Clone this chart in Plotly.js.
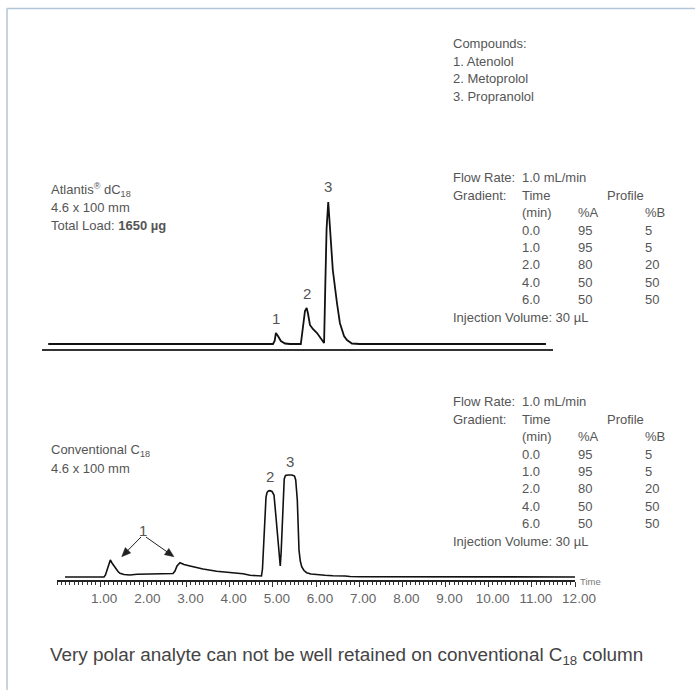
<!DOCTYPE html>
<html><head><meta charset="utf-8">
<script src="https://cdn.plot.ly/plotly-3.0.1.min.js"></script>
<style>html,body{margin:0;padding:0;background:#fff}</style>
</head><body><div id="chart" style="width:695px;height:690px"></div>
<script>
// ---------- data ----------
const compounds = ['Atenolol', 'Metoprolol', 'Propranolol'];

// Atlantis dC18 chromatogram (time in min, signal in arbitrary units)
const topTime   = [0, 5.41, 5.45, 5.48, 5.53, 5.60, 5.70, 5.82, 6.08, 6.13, 6.18, 6.22, 6.25, 6.30, 6.37, 6.47, 6.56, 6.61, 6.64, 6.67, 6.70, 6.74, 6.78, 6.85, 6.95, 7.02, 7.12, 7.19, 7.31, 7.50, 11.98];
const topSignal = [0, 0, 3, 11, 8, 3, 0.5, 0, 0, 15, 33, 36, 31, 19, 15, 11, 6, 3, 1, 60, 115, 142, 120, 74, 41, 21, 8, 4, 0.5, 0, 0];

// Conventional C18 chromatogram
const lowTime   = [0.185, 1.089, 1.123, 1.158, 1.193, 1.235, 1.274, 1.344, 1.413, 1.459, 1.552, 1.691, 1.853, 2.154, 2.618, 2.687, 2.733, 2.780, 2.849, 2.942, 3.081, 3.382, 3.699, 4.007, 4.146, 4.216, 4.309, 4.471, 4.656, 4.737, 4.760, 4.779, 4.795, 4.819, 4.842, 4.865, 4.895, 4.934, 4.981, 5.027, 5.050, 5.073, 5.103, 5.126, 5.149, 5.172, 5.193, 5.212, 5.228, 5.247, 5.264, 5.294, 5.352, 5.444, 5.502, 5.530, 5.548, 5.567, 5.588, 5.606, 5.636, 5.669, 5.722, 5.784, 5.884, 6.016, 6.208, 6.393, 6.555, 6.671, 6.787, 7.019, 12.0];
const lowSignal = [0, 0, 2, 7, 13, 17, 14, 9, 5.5, 3.7, 2.5, 2, 2.7, 3, 3, 3.5, 6, 11, 14.3, 12.5, 11, 8, 5.7, 4.7, 4.5, 4.3, 3.3, 1.7, 1.0, 1, 8, 27, 45, 67, 80, 84.5, 86, 86.3, 85.5, 82, 74, 60, 45, 30, 18, 11, 25, 48, 60, 85, 98, 101.5, 102, 102, 101, 97, 88, 77, 50, 27, 16, 10.3, 6.5, 4.3, 3, 2.3, 1.7, 1.3, 1.5, 1, 0.5, 0.3, 0];

// peak labels (apex time, apex signal)
const topPeakLabels = ['1', '2', '3'];
const topPeakTimes  = [5.48, 6.22, 6.74];
const topPeakHeights = [11, 36, 142];
const lowPeakLabels = ['2', '3'];
const lowPeakTimes  = [4.934, 5.40];
const lowPeakHeights = [86.3, 102];
// compound 1 in the conventional run: label position and the two arrow targets
const lowPeak1Label = {t: 1.99, v: 47};
const lowPeak1Tails = [[1.946, 40], [2.06, 40]];
const lowPeak1Heads = [[1.499, 20.3], [2.710, 20.3]];

const tickValues = [1, 2, 3, 4, 5, 6, 7, 8, 9, 10, 11, 12];
const tickLabels = ['1.00', '2.00', '3.00', '4.00', '5.00', '6.00', '7.00', '8.00', '9.00', '10.00', '11.00', '12.00'];

const flowRate = '1.0 mL/min';
const gradTime = ['0.0', '1.0', '2.0', '4.0', '6.0'];
const gradA = [95, 95, 80, 50, 50];
const gradB = [5, 5, 20, 50, 50];
const injVolume = '30 µL';

// ---------- layout helpers ----------
const W = 695, H = 690;
const px = x => x / W;
const py = y => 1 - y / H;
const FONT = 'Liberation Sans, Arial, sans-serif';
const TXT = '#555';

// lower plot geometry (pixels per data unit)
const LX0 = 57, LX1 = 575, LXR = [0, 12];
const LY0 = 579.5, LY1 = 459.5, LYR = [-2.5, 117.5];
const kx = (LX1 - LX0) / (LXR[1] - LXR[0]);
const ky = (LY0 - LY1) / (LYR[1] - LYR[0]);

const ann = [];
function text(x, y, t, size, color, extra) {
  ann.push(Object.assign({xref: 'paper', yref: 'paper', x: px(x), y: py(y), text: t, showarrow: false,
    xanchor: 'left', yanchor: 'middle', font: {family: FONT, size: size || 13, color: color || TXT}}, extra || {}));
}

// compounds list
text(451, 43.5, 'Compounds:');
compounds.forEach((c, i) => text(451, 43.5 + 17.7 * (i + 1), (i + 1) + '. ' + c));

// column labels
text(49, 190, 'Atlantis<sup>®</sup> dC<sub>18</sub>');
text(49, 207.5, '4.6 x 100 mm');
text(49, 225, 'Total Load: <b>1650 µg</b>');
text(49, 450.7, 'Conventional C<sub>18</sub>');
text(49, 468.2, '4.6 x 100 mm');

// method tables
function table(y0) {
  const dy = 17.45;
  text(451, y0, 'Flow Rate:');
  text(520, y0, flowRate);
  text(451, y0 + dy, 'Gradient:');
  text(520, y0 + dy, 'Time');
  text(605, y0 + dy, 'Profile');
  text(520, y0 + 2 * dy, '(min)');
  text(576, y0 + 2 * dy, '%A');
  text(643, y0 + 2 * dy, '%B');
  gradTime.forEach((t, i) => {
    const y = y0 + (3 + i) * dy;
    text(520, y, t);
    text(576, y, String(gradA[i]));
    text(643, y, String(gradB[i]));
  });
  text(451, y0 + 8 * dy, 'Injection Volume: ' + injVolume);
}
table(177.7);
table(401.7);

// peak labels
topPeakLabels.forEach((l, i) => ann.push({xref: 'x2', yref: 'y2', x: topPeakTimes[i], y: topPeakHeights[i], text: l,
  showarrow: false, yanchor: 'middle', yshift: 15, font: {family: FONT, size: 15, color: TXT}}));
lowPeakLabels.forEach((l, i) => ann.push({xref: 'x', yref: 'y', x: lowPeakTimes[i], y: lowPeakHeights[i], text: l,
  showarrow: false, yanchor: 'middle', yshift: 14, font: {family: FONT, size: 15, color: TXT}}));
ann.push({xref: 'x', yref: 'y', x: lowPeak1Label.t, y: lowPeak1Label.v, text: '1', showarrow: false, yanchor: 'middle',
  font: {family: FONT, size: 15, color: TXT}});

// arrows for compound 1 as shapes (line + filled head)
const shapes = [
  {type: 'line', xref: 'paper', yref: 'paper', x0: px(7), x1: 1, y0: py(8.5), y1: py(8.5), line: {color: '#b3c6d9', width: 1.5}},
  {type: 'line', xref: 'paper', yref: 'paper', x0: px(7), x1: px(7), y0: py(8.5), y1: 0, line: {color: '#b3c6d9', width: 1.5}}
];
lowPeak1Heads.forEach((h, i) => {
  const t = lowPeak1Tails[i];
  // direction in pixel space (x right, y up)
  const dxp = (h[0] - t[0]) * kx, dyp = (h[1] - t[1]) * ky;
  const len = Math.hypot(dxp, dyp);
  const ux = dxp / len, uy = dyp / len;
  const L = 9, Wd = 3.8;
  const bx = -L * ux, by = -L * uy;           // back from tip
  const nx = -uy * Wd, ny = ux * Wd;           // normal
  const p1 = [h[0] + (bx + nx) / kx, h[1] + (by + ny) / ky];
  const p2 = [h[0] + (bx - nx) / kx, h[1] + (by - ny) / ky];
  const mid = [h[0] + bx * 0.8 / kx, h[1] + by * 0.8 / ky];
  shapes.push({type: 'line', xref: 'x', yref: 'y', x0: t[0], y0: t[1], x1: mid[0], y1: mid[1],
    line: {color: '#222', width: 1}});
  shapes.push({type: 'path', xref: 'x', yref: 'y',
    path: 'M' + h[0] + ',' + h[1] + ' L' + p1[0] + ',' + p1[1] + ' L' + p2[0] + ',' + p2[1] + ' Z',
    fillcolor: '#222', line: {color: '#222', width: 0.5}});
});

// axis title "Time"
text(578, 581.5, 'Time', 9.5, '#777');

// caption
text(48, 656, 'Very polar analyte can not be well retained on conventional C<sub>18</sub> column', 18.9, '#444');

const data = [
  {x: topTime, y: topSignal, xaxis: 'x2', yaxis: 'y2', type: 'scatter', mode: 'lines',
   line: {color: '#111', width: 1.8}, hoverinfo: 'skip'},
  {x: lowTime, y: lowSignal, xaxis: 'x', yaxis: 'y', type: 'scatter', mode: 'lines',
   line: {color: '#111', width: 1.6}, hoverinfo: 'skip'}
];

const layout = {
  width: W, height: H, autosize: false,
  margin: {l: 0, r: 0, t: 0, b: 0},
  paper_bgcolor: '#fff', plot_bgcolor: 'rgba(0,0,0,0)',
  showlegend: false,
  xaxis: {domain: [px(LX0), px(LX1)], range: LXR, showgrid: false, zeroline: false,
    showline: true, linecolor: '#222', linewidth: 2,
    ticks: 'outside', ticklen: 5, tickwidth: 1, tickcolor: '#333',
    tickvals: tickValues, ticktext: tickLabels, ticklabelshift: 4,
    tickfont: {family: FONT, size: 13.5, color: '#666'},
    minor: {dtick: 0.1, tick0: 0, ticks: 'outside', ticklen: 3, tickwidth: 1, tickcolor: '#333', showgrid: false},
    fixedrange: true},
  yaxis: {domain: [py(LY0), py(LY1)], range: LYR, visible: false, fixedrange: true},
  xaxis2: {domain: [px(42), px(553)], range: [-0.15, 12.15], anchor: 'y2', showgrid: false, zeroline: false,
    showline: true, linecolor: '#333', linewidth: 1.5, ticks: '', showticklabels: false, fixedrange: true},
  yaxis2: {domain: [py(349), py(189)], range: [-5, 155], anchor: 'x2', visible: false, fixedrange: true},
  annotations: ann,
  shapes: shapes
};

Plotly.newPlot('chart', data, layout, {staticPlot: true, displayModeBar: false});
</script></body></html>
